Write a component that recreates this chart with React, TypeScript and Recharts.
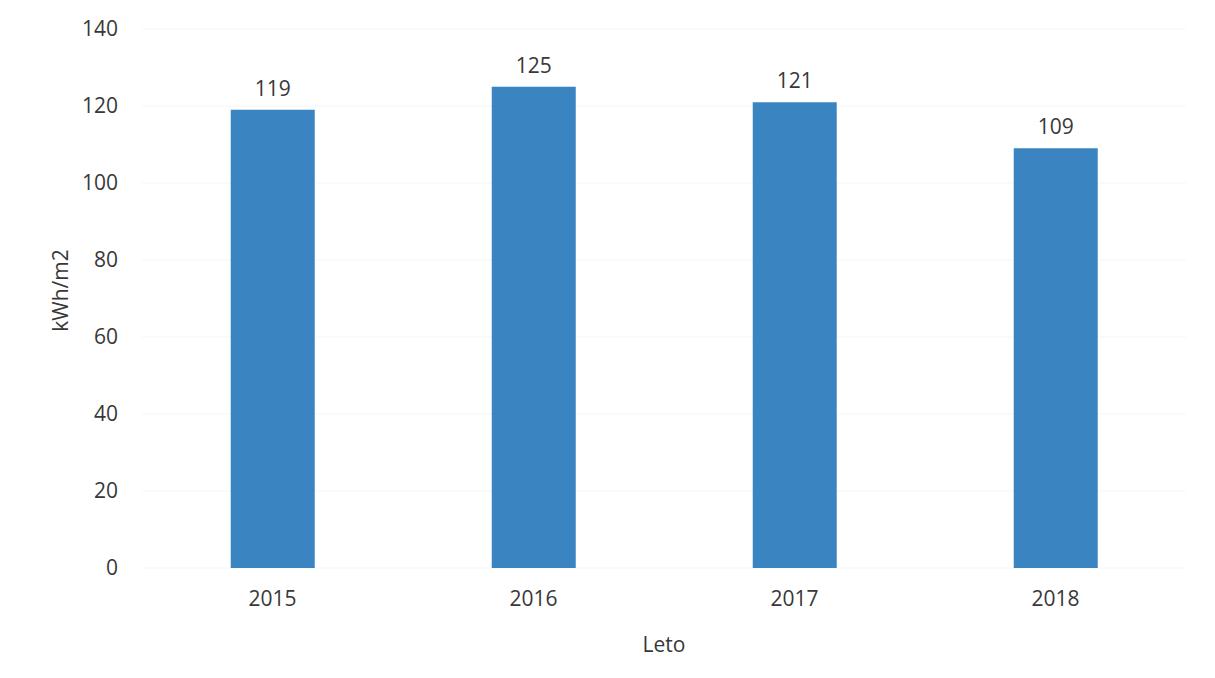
import React from 'react';
import { BarChart, Bar, XAxis, YAxis, CartesianGrid, LabelList, Label } from 'recharts';

const years = ['2015', '2016', '2017', '2018'];
const values = [119, 125, 121, 109];
const yTicks = [0, 20, 40, 60, 80, 100, 120, 140];

const data = years.map((y, i) => ({ year: y, value: values[i] }));

const FONT = '"Open Sans", "Liberation Sans", sans-serif';
const TXT = '#383838';

const YLabel = (props: any) => {
  const vb = props.viewBox || {};
  const cx = 60;
  const cy = vb.y + vb.height / 2 - 8;
  return (
    <text x={cx} y={cy} transform={`rotate(-90, ${cx}, ${cy})`} textAnchor="middle" dominantBaseline="central"
      fontFamily={FONT} fontSize={21} fill={TXT}>kWh/m2</text>
  );
};

export default function App() {
  return (
    <div style={{ position: 'absolute', left: 0, top: 0, width: 1215, height: 678, background: '#fff' }}>
      <BarChart width={1215} height={678} data={data} margin={{ top: 29, right: 29, bottom: 0, left: 0 }} barCategoryGap="34%">
        <CartesianGrid vertical={false} stroke="#f5f5f5" />
        <XAxis dataKey="year" height={110} axisLine={false} tickLine={false} tickMargin={17}
          tick={{ fontFamily: FONT, fontSize: 21, fill: TXT }}>
          <Label value="Leto" position="insideBottom" offset={26} style={{ fontFamily: FONT, fontSize: 21, fill: TXT }} />
        </XAxis>
        <YAxis width={142} domain={[0, 140]} ticks={yTicks} axisLine={false} tickLine={false} tickMargin={18}
          interval={0} tick={{ fontFamily: FONT, fontSize: 21, fill: TXT }}>
          <Label content={<YLabel />} />
        </YAxis>
        <Bar dataKey="value" fill="#3A84C1" isAnimationActive={false}>
          <LabelList dataKey="value" position="top" offset={14} style={{ fontFamily: FONT, fontSize: 21, fill: TXT }} />
        </Bar>
      </BarChart>
    </div>
  );
}
